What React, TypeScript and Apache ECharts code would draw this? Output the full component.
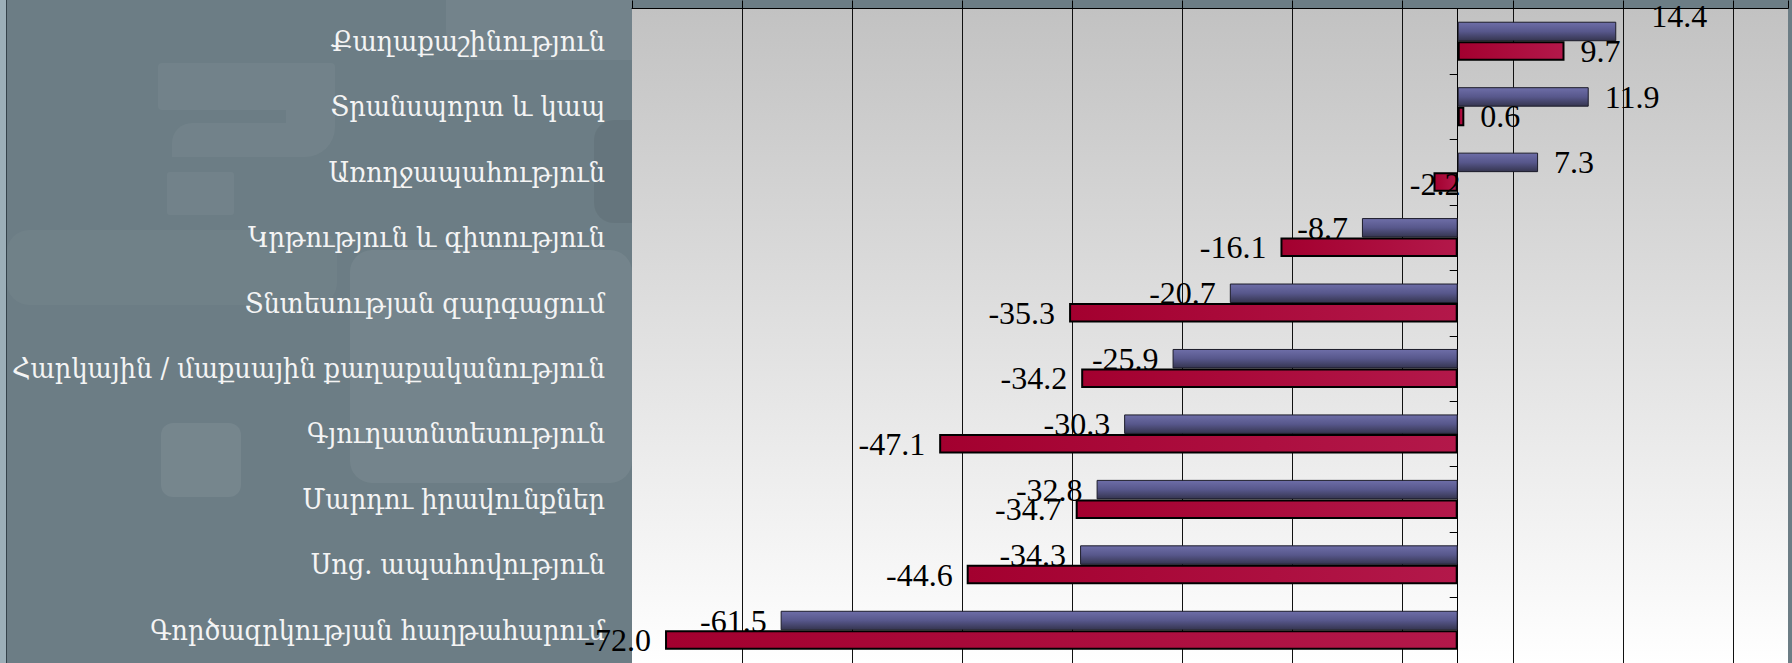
import React, { useEffect, useRef } from 'react';
import * as echarts from 'echarts';

const categories = [
  'Քաղաքաշինություն',
  'Տրանսպորտ և կապ',
  'Առողջապահություն',
  'Կրթություն և գիտություն',
  'Տնտեսության զարգացում',
  'Հարկային / մաքսային քաղաքականություն',
  'Գյուղատնտեսություն',
  'Մարդու իրավունքներ',
  'Սոց. ապահովություն',
  'Գործազրկության հաղթահարում',
];
const seriesBlue = [14.4, 11.9, 7.3, -8.7, -20.7, -25.9, -30.3, -32.8, -34.3, -61.5];
const seriesRed = [9.7, 0.6, -2.2, -16.1, -35.3, -34.2, -47.1, -34.7, -44.6, -72.0];
const axisMin = -75;
const axisMax = 30;
const axisStep = 10;

// manual label nudges (style only)
const blueLabelNudge: Record<number, number[]> = { 0: [19, -15] };
const redLabelNudge: Record<number, number[]> = { 2: [41, 2] };

const labelFont = { fontFamily: '"Liberation Serif", "Times New Roman", serif', fontSize: 32, color: '#000' };

function buildData(values: number[], nudge: Record<number, number[]>) {
  return values.map((v, i) => ({
    value: v,
    label: {
      position: v < 0 ? 'left' : 'right',
      distance: v < 0 ? 14 : 16,
      offset: nudge[i] || [0, 0],
    },
  }));
}

export default function App() {
  const ref = useRef<HTMLDivElement>(null);
  useEffect(() => {
    const chart = echarts.init(ref.current!, null, { renderer: 'svg' });
    const LG = echarts.graphic.LinearGradient;
    const deco = 'rgba(255,255,255,0.045)';
    const option: any = {
      animation: false,
      backgroundColor: '#6c7d85',
      graphic: [
        { type: 'rect', z: -10, shape: { x: 0, y: 0, width: 6, height: 663 }, style: { fill: '#9cafb8' } },
        { type: 'line', z: -10, shape: { x1: 6.5, y1: 0, x2: 6.5, y2: 663 }, style: { stroke: '#34424a', lineWidth: 1 } },
        { type: 'rect', z: -10, shape: { x: 7, y: 230, width: 330, height: 75, r: 22 }, style: { fill: 'rgba(255,255,255,0.03)' } },
        { type: 'rect', z: -10, shape: { x: 350, y: 250, width: 282, height: 233, r: 22 }, style: { fill: 'rgba(255,255,255,0.06)' } },
        { type: 'rect', z: -10, shape: { x: 446, y: 0, width: 186, height: 60, r: [0, 0, 0, 30] }, style: { fill: 'rgba(255,255,255,0.05)' } },
        { type: 'rect', z: -10, shape: { x: 158, y: 63, width: 177, height: 47, r: 4 }, style: { fill: deco } },
        { type: 'rect', z: -10, shape: { x: 286, y: 110, width: 49, height: 47, r: [0, 0, 30, 0] }, style: { fill: deco } },
        { type: 'rect', z: -10, shape: { x: 172, y: 123, width: 114, height: 34, r: [20, 0, 0, 0] }, style: { fill: deco } },
        { type: 'rect', z: -10, shape: { x: 167, y: 172, width: 67, height: 43, r: 3 }, style: { fill: deco } },
        { type: 'rect', z: -10, shape: { x: 161, y: 423, width: 80, height: 74, r: 12 }, style: { fill: 'rgba(255,255,255,0.07)' } },
        { type: 'rect', z: -10, shape: { x: 594, y: 120, width: 38, height: 103, r: [20, 0, 0, 20] }, style: { fill: 'rgba(0,0,0,0.06)' } },
      ],
      grid: {
        left: 632,
        right: 4,
        top: 8.5,
        height: 655.5,
        show: true,
        borderWidth: 0,
        backgroundColor: new LG(0, 0, 0, 1, [
          { offset: 0, color: '#c2c2c2' },
          { offset: 1, color: '#ffffff' },
        ]),
      },
      xAxis: {
        type: 'value',
        position: 'top',
        min: axisMin,
        max: axisMax,
        interval: axisStep,
        axisLine: { show: true, onZero: false, lineStyle: { color: '#000', width: 1 } },
        axisTick: { show: true, inside: false, length: 8, lineStyle: { color: '#000', width: 1 } },
        axisLabel: { show: false },
        splitLine: { show: true, showMinLine: false, showMaxLine: false, lineStyle: { color: '#111', width: 1 } },
      },
      yAxis: [
        {
          type: 'category',
          data: categories,
          inverse: true,
          position: 'left',
          axisLine: { show: false, onZero: false },
          axisTick: { show: false },
          splitLine: { show: false },
          axisLabel: {
            margin: 27,
            color: '#f4f4f4',
            fontSize: 28.5,
            fontFamily: '"DejaVu Serif Condensed", "DejaVu Serif", serif',
          },
        },
        {
          type: 'category',
          data: categories,
          inverse: true,
          position: 'left',
          axisLine: { show: true, onZero: true, lineStyle: { color: '#000', width: 1 } },
          axisTick: { show: true, inside: false, length: 8, lineStyle: { color: '#000', width: 1 } },
          axisLabel: { show: false },
          splitLine: { show: false },
        },
      ],
      series: [
        {
          name: 'blue',
          type: 'bar',
          yAxisIndex: 0,
          z: 2,
          barWidth: 19.5,
          barGap: '0%',
          data: buildData(seriesBlue, blueLabelNudge),
          itemStyle: {
            color: new LG(0, 0, 0, 1, [
              { offset: 0, color: '#6e6ea8' },
              { offset: 0.5, color: '#57578b' },
              { offset: 1, color: '#35354f' },
            ]),
            borderColor: '#1c1c2a',
            borderWidth: 1,
          },
          label: { show: true, ...labelFont, formatter: (p: any) => Number(p.value).toFixed(1) },
        },
        {
          name: 'red',
          type: 'bar',
          yAxisIndex: 0,
          z: 3,
          barWidth: 19.5,
          barGap: '0%',
          data: buildData(seriesRed, redLabelNudge),
          itemStyle: {
            color: new LG(0, 0, 1, 0, [
              { offset: 0, color: '#a3002f' },
              { offset: 1, color: '#b3184a' },
            ]),
            borderColor: '#000',
            borderWidth: 2,
          },
          label: { show: true, ...labelFont, formatter: (p: any) => Number(p.value).toFixed(1) },
        },
      ],
    };
    chart.setOption(option);
    return () => chart.dispose();
  }, []);
  return (
    <div
      ref={ref}
      style={{ position: 'fixed', left: 0, top: 0, width: 1792, height: 663 }}
    />
  );
}
